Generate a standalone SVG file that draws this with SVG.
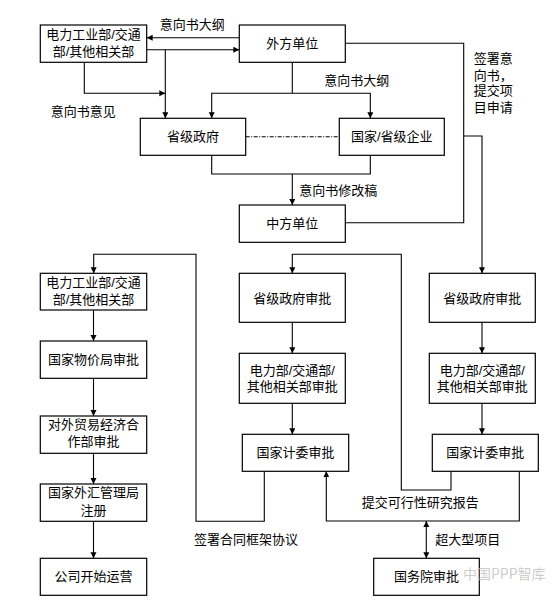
<svg xmlns="http://www.w3.org/2000/svg" width="555" height="600" viewBox="0 0 555 600">
<style>
.box{fill:#fff;stroke:#000;stroke-width:1.2}
.t{font-family:"Liberation Sans","Noto Sans CJK SC",sans-serif;font-size:13px;fill:#000;text-anchor:middle;dominant-baseline:central}
.l{font-family:"Liberation Sans","Noto Sans CJK SC",sans-serif;font-size:13px;fill:#000;dominant-baseline:central}
.c{fill:none;stroke:#000;stroke-width:1.1}
.a{marker-end:url(#ah)}
.wm{font-family:"Noto Sans CJK SC",sans-serif;font-size:14px;fill:#bbb;fill-opacity:0.75;dominant-baseline:central}
</style>
<defs>
<marker id="ah" markerUnits="userSpaceOnUse" markerWidth="7" markerHeight="7" refX="6" refY="3" orient="auto-start-reverse">
<path d="M0,0 L6,3 L0,6 z" fill="#000"/>
</marker>
</defs>
<rect width="555" height="600" fill="#fff"/>
<g id="connectors">
<path class="c a" d="M239.3,37.7 H146.7"/>
<path class="c a" d="M146.7,49.7 H239.3"/>
<path class="c a" d="M165.3,49.7 V118.3"/>
<path class="c a" d="M84.3,62.3 V93.3 H165.3"/>
<path class="c" d="M292.3,62.3 V93.3"/>
<path class="c a" d="M292.3,93.3 H211.7 V118.3"/>
<path class="c a" d="M292.3,93.3 H370.3 V118.3"/>
<path class="c" d="M245.7,136.7 H339.3" stroke-dasharray="4,1.5,1,1.5"/>
<path class="c" d="M211.7,155.3 V174 H370.3 V155.3"/>
<path class="c a" d="M292.3,174 V205"/>
<path class="c" d="M345.3,43.3 H463.7 V222.7 H345.3"/>
<path class="c a" d="M463.7,136 H482 V273.3"/>
<path class="c a" d="M264.3,471.3 V521.3 H196 V254.3 H93.7 V273.3"/>
<path class="c a" d="M93.5,310 V341"/>
<path class="c a" d="M93.5,378.3 V416"/>
<path class="c a" d="M93.5,453.3 V484"/>
<path class="c a" d="M93.5,521.3 V558.3"/>
<path class="c a" d="M451,471.3 V490 H401.3 V254.3 H292.3 V273.3"/>
<path class="c a" d="M292.3,322.3 V353.3"/>
<path class="c a" d="M292.3,403.3 V434.3"/>
<path class="c a" d="M482,322.3 V353.3"/>
<path class="c a" d="M482,403.3 V434.3"/>
<path class="c a" d="M519.3,471.3 V521 H326.3 V471.3"/>
<path class="c a" d="M426.3,521 V558.3" marker-start="url(#ah)"/>
</g>
<g id="labels">
<text class="t" x="192.2" y="24.3">意向书大纲</text>
<text class="t" x="83.3" y="111.7">意向书意见</text>
<text class="t" x="356.7" y="80">意向书大纲</text>
<text class="t" x="338.3" y="190">意向书修改稿</text>
<text class="l" x="473.7" y="58.3">签署意</text>
<text class="l" x="473.7" y="75">向书，</text>
<text class="l" x="473.7" y="90.7">提交项</text>
<text class="l" x="473.7" y="107.3">目申请</text>
<text class="l" x="194" y="539.3">签署合同框架协议</text>
<text class="t" x="420.3" y="502.3">提交可行性研究报告</text>
<text class="l" x="435.3" y="539.3">超大型项目</text>
</g>
<g id="n1"><rect class="box" x="40.3" y="25" width="106.4" height="37.3"/><text class="t" x="93.5" y="34.3">电力工业部/交通</text><text class="t" x="93.5" y="51.7">部/其他相关部</text></g>
<g id="n2"><rect class="box" x="239.3" y="25" width="106" height="37.3"/><text class="t" x="292.3" y="43.7">外方单位</text></g>
<g id="n3"><rect class="box" x="140.3" y="118.3" width="105.4" height="37"/><text class="t" x="193" y="136.7">省级政府</text></g>
<g id="n4"><rect class="box" x="339.3" y="118.3" width="105" height="37"/><text class="t" x="391.8" y="136.7">国家/省级企业</text></g>
<g id="n5"><rect class="box" x="239.3" y="205" width="106" height="37.3"/><text class="t" x="292.3" y="223.7">中方单位</text></g>
<g id="n6"><rect class="box" x="40.3" y="273.3" width="106.4" height="36.7"/><text class="t" x="93.5" y="282.7">电力工业部/交通</text><text class="t" x="93.5" y="299.7">部/其他相关部</text></g>
<g id="n7"><rect class="box" x="40.3" y="341" width="106.4" height="37.3"/><text class="t" x="93.5" y="359.5">国家物价局审批</text></g>
<g id="n8"><rect class="box" x="40.3" y="416" width="106.4" height="37.3"/><text class="t" x="93.5" y="424.3">对外贸易经济合</text><text class="t" x="93.5" y="441.7">作部审批</text></g>
<g id="n9"><rect class="box" x="40.3" y="484" width="106.4" height="37.3"/><text class="t" x="93.5" y="492.7">国家外汇管理局</text><text class="t" x="93.5" y="510">注册</text></g>
<g id="n10"><rect class="box" x="40.3" y="558.3" width="106.4" height="37"/><text class="t" x="93.5" y="576">公司开始运营</text></g>
<g id="n11"><rect class="box" x="239.3" y="273.3" width="106" height="49"/><text class="t" x="292.3" y="298">省级政府审批</text></g>
<g id="n12"><rect class="box" x="239.3" y="353.3" width="106" height="50"/><text class="t" x="292.3" y="370">电力部/交通部/</text><text class="t" x="292.3" y="386.5">其他相关部审批</text></g>
<g id="n13"><rect class="box" x="242.3" y="434.3" width="106.4" height="37"/><text class="t" x="295.5" y="452.5">国家计委审批</text></g>
<g id="n14"><rect class="box" x="429.3" y="273.3" width="106" height="49"/><text class="t" x="482.3" y="298">省级政府审批</text></g>
<g id="n15"><rect class="box" x="429.3" y="353.3" width="106" height="50"/><text class="t" x="482.3" y="370">电力部/交通部/</text><text class="t" x="482.3" y="386.5">其他相关部审批</text></g>
<g id="n16"><rect class="box" x="432.3" y="434.3" width="106" height="37"/><text class="t" x="485.3" y="452.5">国家计委审批</text></g>
<g id="n17"><rect class="box" x="373.7" y="558.3" width="105.6" height="37"/><text class="t" x="426.5" y="576">国务院审批</text></g>
<text class="wm" x="463" y="573">中国PPP智库</text>
</svg>
